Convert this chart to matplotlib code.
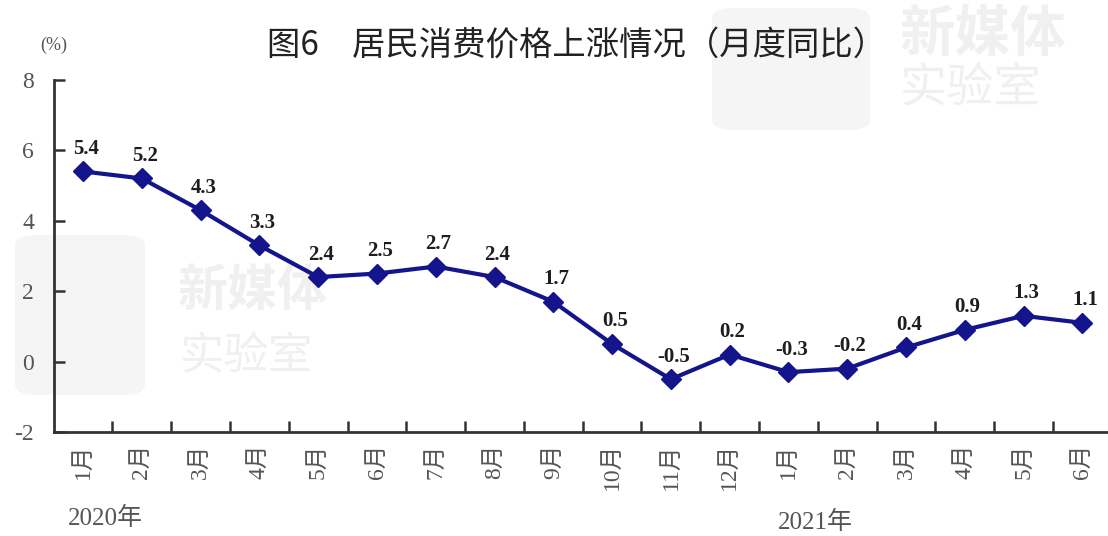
import matplotlib
matplotlib.use("Agg")
import matplotlib.pyplot as plt
from matplotlib.patches import FancyBboxPatch

# monthly CPI year-on-year change, Jan 2020 - Jun 2021
months = ["1月", "2月", "3月", "4月", "5月", "6月", "7月", "8月", "9月",
          "10月", "11月", "12月", "1月", "2月", "3月", "4月", "5月", "6月"]
cpi = [5.4, 5.2, 4.3, 3.3, 2.4, 2.5, 2.7, 2.4, 1.7,
       0.5, -0.5, 0.2, -0.3, -0.2, 0.4, 0.9, 1.3, 1.1]
years = ["2020年", "2021年"]
yticks = [-2, 0, 2, 4, 6, 8]

serif = ["Liberation Serif", "Noto Sans CJK SC"]
cjk = ["Noto Sans CJK SC", "DejaVu Sans"]
line_color = "#14148c"

fig = plt.figure(figsize=(11.08, 5.36), dpi=100)

# faint watermarks (logo boxes + text), kept behind the axes
wm = "#f0f0f0"
for (x0, y0, w, h) in [(15, 235, 130, 160), (712, 8, 158, 122)]:
    fig.patches.append(FancyBboxPatch((x0 / 1108, 1 - (y0 + h) / 536), w / 1108, h / 536,
                                      boxstyle="round,pad=0,rounding_size=0.02",
                                      transform=fig.transFigure, fc="#f5f5f5", ec="none",
                                      zorder=-2))
fig.text(178 / 1108, 1 - 292 / 536, "新媒体", family=cjk, fontsize=36, weight="bold",
         color=wm, va="center", ha="left", zorder=-1)
fig.text(180 / 1108, 1 - 356 / 536, "实验室", family=cjk, fontsize=32,
         color=wm, va="center", ha="left", zorder=-1)
fig.text(900 / 1108, 1 - 35 / 536, "新媒体", family=cjk, fontsize=40, weight="bold",
         color=wm, va="center", ha="left", zorder=-1)
fig.text(900 / 1108, 1 - 88 / 536, "实验室", family=cjk, fontsize=34,
         color=wm, va="center", ha="left", zorder=-1)

ax = fig.add_axes([0.0484, 0.194, 0.955, 0.657])
ax.set_zorder(2)
ax.patch.set_alpha(0)

x = list(range(len(cpi)))
ax.plot(x, cpi, color=line_color, lw=3, marker="D", ms=10, zorder=3)
for xi, v in zip(x, cpi):
    ax.annotate(f"{v:.1f}", (xi, v), xytext=(2, 9), textcoords="offset points",
                ha="center", va="bottom", family=serif, fontsize=15,
                weight="bold", color="#1e1e1e")

ax.set_xlim(-0.5, len(cpi) - 0.5)
ax.set_ylim(-2, 8)
ax.set_yticks(yticks)
ax.set_yticklabels([str(t) for t in yticks], family=serif, fontsize=17, color="#555555")

# ticks sit between months, labels centred under points
ax.set_xticks([i + 0.5 for i in range(len(cpi) - 1)])
ax.set_xticklabels([])
ax.set_xticks(x, minor=True)
ax.set_xticklabels(months, minor=True, rotation=90, family=serif, fontsize=17,
                   color="#555555", va="top")
ax.tick_params(axis="x", which="minor", length=0, pad=8)
ax.tick_params(axis="x", which="major", direction="in", length=8, width=1.8, color="#333333")
ax.tick_params(axis="y", direction="in", length=8, width=1.8, color="#333333", pad=14)

for side in ["top", "right"]:
    ax.spines[side].set_visible(False)
for side in ["left", "bottom"]:
    ax.spines[side].set_linewidth(2)
    ax.spines[side].set_color("#333333")

fig.text(68 / 1108, 1 - 518 / 536, years[0], family=serif, fontsize=18,
         color="#555555", ha="left", va="center")
fig.text(778 / 1108, 1 - 522 / 536, years[1], family=serif, fontsize=18,
         color="#555555", ha="left", va="center")
fig.text(40 / 1108, 1 - 45 / 536, "(%)", family=serif, fontsize=13,
         color="#555555", ha="left", va="center")
fig.text(577 / 1108, 1 - 45 / 536, "图6　居民消费价格上涨情况（月度同比）", family=cjk,
         fontsize=24, weight="medium", color="#222222", ha="center", va="center")

fig.savefig("out.png", dpi=100)
